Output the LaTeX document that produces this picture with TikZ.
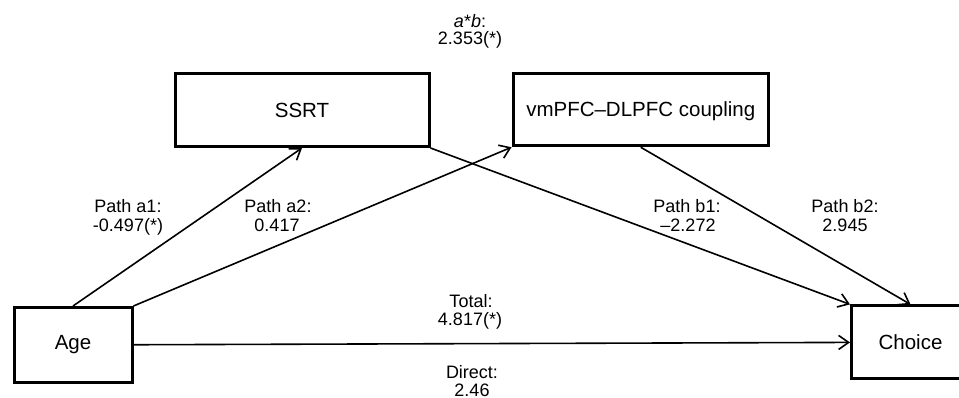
\documentclass[tikz,border=0pt]{standalone}
\usepackage{fontspec}
\setmainfont{Liberation Sans}
\usetikzlibrary{arrows.meta}
\begin{document}
\begin{tikzpicture}[x=1pt,y=-1pt,
  box/.style={draw, line width=3pt, rectangle, inner sep=0pt, font=\fontsize{20.5}{22}\selectfont},
  conn/.style={line width=1.6pt, -{Straight Barb[length=10pt,width=14pt]}},
  lbl/.style={anchor=base, inner sep=0pt, font=\fontsize{18}{19}\selectfont}]
\useasboundingbox (0,0) rectangle (959,398);
\clip (0,0) rectangle (959,398);
\fill[white] (0,0) rectangle (959,398);
% boxes
\node[box, minimum width=254pt, minimum height=73pt] (ssrt) at (302,110) {SSRT};
\node[box, minimum width=255.5pt, minimum height=72.5pt, text depth=1pt] (vm) at (640.75,109.5) {vmPFC–DLPFC coupling};
\node[box, minimum width=118pt, minimum height=74.5pt] (age) at (73,344.75) {Age};
\node[box, minimum width=118pt, minimum height=73pt] (choice) at (910.5,342.4) {Choice};
% connectors
\draw[conn] (age.north) -- (ssrt.south);
\draw[conn] (age.north east) -- (vm.south west);
\draw[conn] (ssrt.south east) -- (choice.north west);
\draw[conn] (vm.south) -- (choice.north);
\draw[conn] (age.east) -- (choice.west);
% labels
\node[lbl] (ab1) at (470,28) {\textit{a}*\textit{b}:};
\node[lbl] (ab2) at (470,45) {2.353(*)};
\node[lbl] (a1l1) at (128,213) {Path a1:};
\node[lbl] (a1l2) at (128,232) {-0.497(*)};
\node[lbl] (a2l1) at (278,213) {Path a2:};
\node[lbl] (a2l2) at (277,232) {0.417};
\node[lbl] (b1l1) at (687,213) {Path b1:};
\node[lbl] (b1l2) at (688,232) {–2.272};
\node[lbl] (b2l1) at (845,213) {Path b2:};
\node[lbl] (b2l2) at (845,232) {2.945};
\node[lbl] (tl1) at (471,308) {Total:};
\node[lbl] (tl2) at (470,326) {4.817(*)};
\node[lbl] (dl1) at (472,378.5) {Direct:};
\node[lbl, text depth=0pt] (dl2) at (472,396) {2.46};
\end{tikzpicture}
\end{document}
